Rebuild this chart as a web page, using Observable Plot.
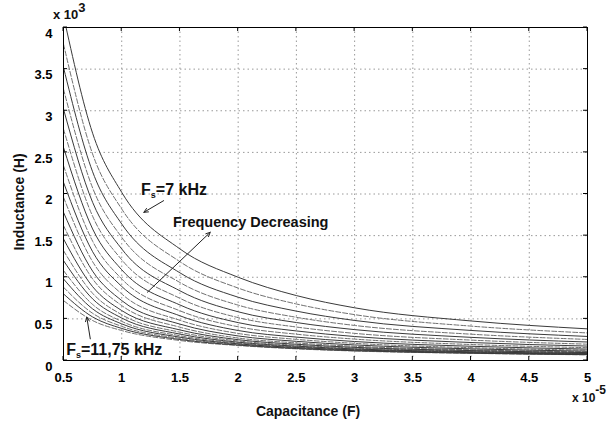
<!DOCTYPE html>
<html><head><meta charset="utf-8">
<script src="https://cdn.jsdelivr.net/npm/d3@7"></script>
<script src="https://cdn.jsdelivr.net/npm/@observablehq/plot@0.6"></script>
<style>
body{margin:0;background:#fff;}
#chart svg{display:block;}
</style></head><body><div id="chart"></div>
<script>
// Capacitance (x 1e-5 F) sample points and inductance (x 1e-3 H) per switching frequency
const capacitance = [0.5, 0.75, 1, 1.5, 2, 2.5, 3, 4, 5];
const frequencyKHz = [7, 7.25, 7.5, 7.75, 8, 8.25, 8.5, 8.75, 9, 9.25, 9.5, 9.75, 10, 10.25, 10.5, 10.75, 11, 11.25, 11.5, 11.75];
const L_7_00  = [4.14, 2.73, 2.02, 1.34, 1.00, 0.78, 0.633, 0.475, 0.38];
const L_7_25  = [3.80, 2.48, 1.82, 1.187, 0.87, 0.679, 0.551, 0.413, 0.331];
const L_7_50  = [3.52, 2.267, 1.64, 1.053, 0.76, 0.593, 0.481, 0.361, 0.289];
const L_7_75  = [3.26, 2.073, 1.48, 0.937, 0.665, 0.519, 0.421, 0.316, 0.253];
const L_8_00  = [3.02, 1.90, 1.34, 0.837, 0.585, 0.456, 0.371, 0.278, 0.222];
const L_8_25  = [2.78, 1.733, 1.21, 0.747, 0.515, 0.402, 0.326, 0.245, 0.196];
const L_8_50  = [2.56, 1.58, 1.09, 0.667, 0.455, 0.355, 0.288, 0.216, 0.173];
const L_8_75  = [2.34, 1.433, 0.98, 0.597, 0.405, 0.316, 0.257, 0.192, 0.154];
const L_9_00  = [2.14, 1.307, 0.89, 0.537, 0.36, 0.281, 0.228, 0.171, 0.137];
const L_9_25  = [1.96, 1.187, 0.80, 0.483, 0.325, 0.254, 0.206, 0.154, 0.124];
const L_9_50  = [1.78, 1.073, 0.72, 0.437, 0.295, 0.230, 0.187, 0.140, 0.112];
const L_9_75  = [1.62, 0.98, 0.66, 0.40, 0.27, 0.211, 0.171, 0.128, 0.103];
const L_10_00 = [1.46, 0.887, 0.60, 0.367, 0.25, 0.195, 0.158, 0.119, 0.095];
const L_10_25 = [1.32, 0.807, 0.55, 0.34, 0.235, 0.183, 0.149, 0.112, 0.089];
const L_10_50 = [1.20, 0.74, 0.51, 0.317, 0.22, 0.172, 0.139, 0.105, 0.084];
const L_10_75 = [1.08, 0.673, 0.47, 0.297, 0.21, 0.164, 0.133, 0.10, 0.080];
const L_11_00 = [0.98, 0.62, 0.44, 0.28, 0.20, 0.156, 0.127, 0.095, 0.076];
const L_11_25 = [0.88, 0.567, 0.41, 0.265, 0.193, 0.150, 0.122, 0.091, 0.073];
const L_11_50 = [0.80, 0.523, 0.385, 0.252, 0.185, 0.144, 0.117, 0.088, 0.070];
const L_11_75 = [0.72, 0.48, 0.36, 0.24, 0.18, 0.140, 0.114, 0.086, 0.068];
const xTicks = [0.5, 1, 1.5, 2, 2.5, 3, 3.5, 4, 4.5, 5];
const yTicks = [0, 0.5, 1, 1.5, 2, 2.5, 3, 3.5, 4];

const series = [L_7_00, L_7_25, L_7_50, L_7_75, L_8_00, L_8_25, L_8_50, L_8_75, L_9_00, L_9_25,
  L_9_50, L_9_75, L_10_00, L_10_25, L_10_50, L_10_75, L_11_00, L_11_25, L_11_50, L_11_75];
const rows = series.flatMap((vals, i) => vals.map((v, j) => ({f: frequencyKHz[i], idx: i, c: capacitance[j], L: v})));

const arrows = [
  {x1: 1.36, y1: 1.92, x2: 1.19, y2: 1.78},
  {x1: 1.22, y1: 0.82, x2: 1.76, y2: 1.54},
  {x1: 0.73, y1: 0.26, x2: 0.70, y2: 0.52}
];

const font = "'Liberation Sans', Arial, sans-serif";
const plot = Plot.plot({
  width: 615, height: 422,
  marginLeft: 63, marginRight: 28, marginTop: 27, marginBottom: 62,
  x: {domain: [0.5, 5]},
  y: {domain: [0, 4]},
  style: {fontFamily: font, fontWeight: "bold", background: "#fff", color: "#000"},
  marks: [
    Plot.gridX(xTicks.slice(1, -1), {stroke: "#999", strokeOpacity: 1, strokeDasharray: "1.5,3"}),
    Plot.gridY(yTicks.slice(1, -1), {stroke: "#999", strokeOpacity: 1, strokeDasharray: "1.5,3"}),
    Plot.line(rows.filter(d => d.idx % 2 === 1), {x: "c", y: "L", z: "f", curve: "monotone-x", stroke: "#707070", strokeWidth: 1, strokeDasharray: "5,2", clip: true}),
    Plot.line(rows.filter(d => d.idx % 2 === 0), {x: "c", y: "L", z: "f", curve: "monotone-x", stroke: "#3a3a3a", strokeWidth: 1, clip: true}),
    Plot.frame({stroke: "#000", strokeWidth: 1}),
    Plot.axisX({ticks: xTicks, tickSize: 0, tickPadding: 12, fontSize: 13, label: null, tickFormat: d => String(d)}),
    Plot.axisY({ticks: yTicks, tickSize: 0, tickPadding: 11, fontSize: 13, dy: 6, label: null, tickFormat: d => String(d)}),
    Plot.arrow(arrows, {x1: "x1", y1: "y1", x2: "x2", y2: "y2", stroke: "#222", strokeWidth: 1, headLength: 7, headAngle: 50})
  ]
});
document.getElementById("chart").appendChild(plot);

const svg = d3.select(plot);
const sx = plot.scale("x"), sy = plot.scale("y");
const X = v => sx.apply(v), Y = v => sy.apply(v);
const gT = svg.append("g").attr("stroke", "#000").attr("stroke-width", 1);
for (const t of xTicks) {
  gT.append("line").attr("x1", X(t)).attr("x2", X(t)).attr("y1", Y(0)).attr("y2", Y(0) - 4);
  gT.append("line").attr("x1", X(t)).attr("x2", X(t)).attr("y1", Y(4)).attr("y2", Y(4) + 4);
}
for (const t of yTicks) {
  gT.append("line").attr("x1", X(0.5)).attr("x2", X(0.5) + 4).attr("y1", Y(t)).attr("y2", Y(t));
  gT.append("line").attr("x1", X(5)).attr("x2", X(5) - 4).attr("y1", Y(t)).attr("y2", Y(t));
}

const txt = (x, y, size, anchor) => svg.append("text").attr("x", x).attr("y", y)
  .attr("font-family", font).attr("font-weight", "bold").attr("font-size", size)
  .attr("text-anchor", anchor || "start").attr("fill", "#111");

// axis titles
txt(308, 416, 14, "middle").text("Capacitance (F)");
txt(0, 0, 14, "middle").attr("transform", "translate(24,202) rotate(-90)").text("Inductance (H)");
// exponent labels
const e1 = txt(53, 19, 13); e1.append("tspan").text("x 10"); e1.append("tspan").attr("dy", -7).attr("font-size", 13).text("3");
const e2 = txt(572, 402, 12); e2.append("tspan").text("x 10"); e2.append("tspan").attr("dy", -8).attr("font-size", 12).text("-5");

// annotations
const a1 = txt(X(1.17), Y(1.98), 16); a1.append("tspan").text("F");
a1.append("tspan").attr("font-size", 9).attr("dy", 3).text("s"); a1.append("tspan").attr("dy", -3).text("=7 kHz");
txt(X(1.444), Y(1.60), 14.5).text("Frequency Decreasing");
const a3 = txt(X(0.527), Y(0.06), 16); a3.append("tspan").text("F");
a3.append("tspan").attr("font-size", 9).attr("dy", 3).text("s"); a3.append("tspan").attr("dy", -3).text("=11,75 kHz");
</script></body></html>
